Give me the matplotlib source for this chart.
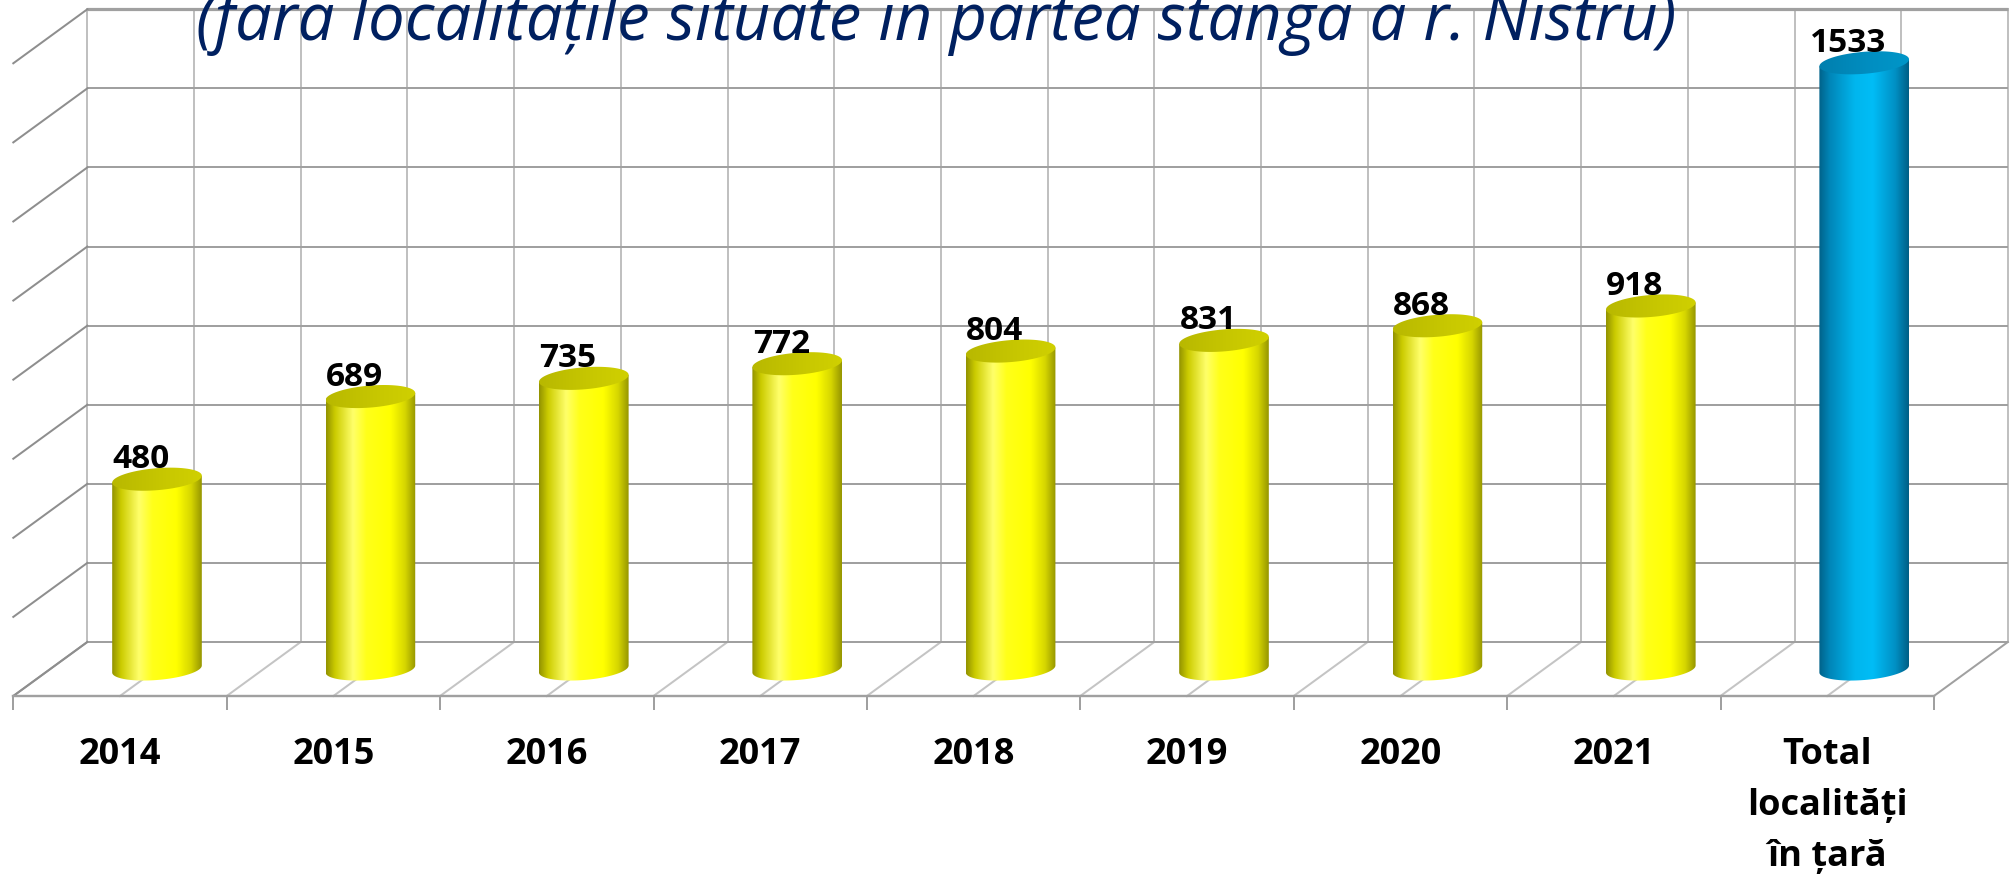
import matplotlib
matplotlib.use("Agg")
import matplotlib.pyplot as plt
import numpy as np
from matplotlib.patches import Polygon
from matplotlib.colors import to_rgb

# date
categories = ["2014", "2015", "2016", "2017", "2018", "2019", "2020", "2021",
              "Total\nlocalități\nîn țară"]
values = [480, 689, 735, 772, 804, 831, 868, 918, 1533]
value_grid = [0, 200, 400, 600, 800, 1000, 1200, 1400, 1600]
title = "(fără localitățile situate în partea stângă a r. Nistru)"

W, H = 2016, 877
fig = plt.figure(figsize=(W / 100, H / 100), dpi=100)
ax = fig.add_axes([0, 0, 1, 1])
ax.axis("off")

# scara in pixeli (planul din mijloc al "cutiei" 3D)
cat_px = 213.4
x0_px = 157.0
val_px = 0.39544
y0_px = 669.0
dx = 37 / cat_px       # adancime pe x
dv = 27 / val_px       # adancime pe y
PT = 0.72              # px -> pt

n = len(categories)
left, right = -0.5, n - 0.5
top = value_grid[-1]

# perete spate + perete lateral
for g in value_grid:
    lw = 3.2 if g == top else 2.0
    ax.plot([left + dx, right + dx], [g + dv, g + dv], color="#a0a0a0",
            lw=lw * PT, zorder=1, solid_capstyle="butt")
    ax.plot([left + dx, left - dx], [g + dv, g - dv], color="#8e8e8e",
            lw=2 * PT, zorder=1)

for k in range(2 * n + 1):
    xb = left + 0.5 * k + dx
    edge = k in (0, 2 * n)
    ax.plot([xb, xb], [dv, top + dv], color="#c0c0c0", lw=2 * PT, zorder=0.9)
    ax.plot([xb, xb - 2 * dx], [dv, -dv],
            color="#a0a0a0" if edge else "#c4c4c4", lw=2 * PT, zorder=0.9)

# margine fata + tick-uri
ax.plot([left - dx, right - dx], [-dv, -dv], color="#a0a0a0", lw=2.4 * PT, zorder=1)
for k in range(n + 1):
    xf = left + k - dx
    ax.plot([xf, xf], [-dv, -dv - 13 / val_px], color="#a0a0a0", lw=2 * PT, zorder=1)


def gradient(stops, m=256):
    pos = [p for p, _ in stops]
    cols = np.array([to_rgb(c) for _, c in stops])
    xs = np.linspace(0, 1, m)
    img = np.stack([np.interp(xs, pos, cols[:, j]) for j in range(3)], axis=-1)
    return img[np.newaxis, :, :]


yellow_body = gradient([(0, "#929200"), (0.1, "#cccc00"), (0.3, "#ffff6a"),
                        (0.45, "#ffff1a"), (0.72, "#ffff00"), (0.88, "#d6d600"),
                        (1.0, "#969600")])
yellow_top = gradient([(0, "#b8b800"), (0.6, "#c8c800"), (1.0, "#d0d000")])
blue_body = gradient([(0, "#00628a"), (0.12, "#0086b8"), (0.4, "#00b6ee"),
                      (0.6, "#00bdf6"), (0.85, "#0090c4"), (1.0, "#005f86")])
blue_top = gradient([(0, "#007fae"), (0.6, "#008fc2"), (1.0, "#0096c8")])

a = 0.21            # jumatate latime cilindru
b = 11 / val_px     # jumatate inaltime elipsa
s = 3.5 / val_px    # inclinare elipsa
t_half = np.linspace(0, np.pi, 60)
t_full = np.linspace(0, 2 * np.pi, 120)


def shaded(poly_xy, img, x1, x2, y1, y2, z):
    patch = Polygon(poly_xy, closed=True, facecolor="none", edgecolor="none",
                    transform=ax.transData)
    ax.add_patch(patch)
    im = ax.imshow(img, extent=(x1, x2, y1, y2), aspect="auto",
                   interpolation="bilinear", zorder=z)
    im.set_clip_path(patch)


for i, v in enumerate(values):
    body_img, top_img = (blue_body, blue_top) if i == n - 1 else (yellow_body, yellow_top)
    bottom = np.column_stack([i + a * np.cos(t_half),
                              -b * np.sin(t_half) + s * np.cos(t_half)])
    body = np.vstack([[i - a, v - s], [i + a, v + s], bottom])
    shaded(body, body_img, i - a, i + a, -b - s, v + s, 3)
    cap = np.column_stack([i + a * np.cos(t_full),
                           v + b * np.sin(t_full) + s * np.cos(t_full)])
    shaded(cap, top_img, i - a, i + a, v - b - s, v + b + s, 4)
    ax.annotate(str(v), (i, v + b), xytext=(-16 * PT, 0), textcoords="offset points",
                ha="center", va="baseline", fontsize=24, fontweight="bold",
                family="Open Sans", color="black", zorder=5)

for i, lab in enumerate(categories):
    ax.annotate(lab, (i - dx, -dv), xytext=(0, -41 * PT), textcoords="offset points",
                ha="center", va="top", fontsize=26, fontweight="bold",
                family="Open Sans", linespacing=1.56, color="black")

# titlul e taiat sus, ca in original
fig.text(936 / W, 1 - 40 / H, title, ha="center", va="baseline", fontsize=47,
         style="italic", family="Open Sans", color="#002060")

ax.set_xlim(-x0_px / cat_px, (W - x0_px) / cat_px)
ax.set_ylim((y0_px - H) / val_px, y0_px / val_px)

fig.savefig("out.png", dpi=100, facecolor="white")
